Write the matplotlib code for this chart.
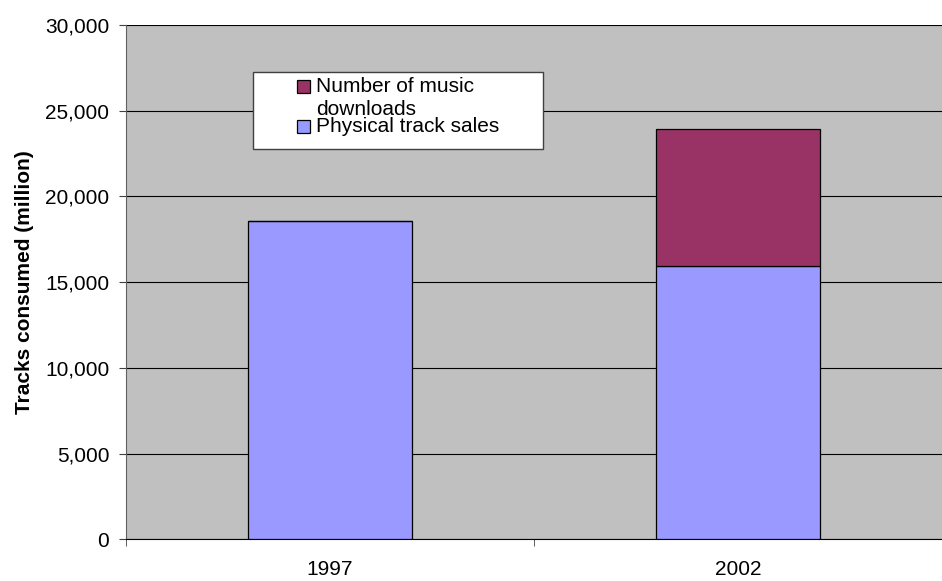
import matplotlib.pyplot as plt
from matplotlib.patches import Rectangle
import numpy as np

years = ['1997', '2002']
physical = [18580, 15960]
downloads = [0, 7960]
labels = ['Number of music\ndownloads', 'Physical track sales']

W, H = 942, 581
plt.rcParams['font.family'] = ['Liberation Sans', 'DejaVu Sans']

fig = plt.figure(figsize=(W / 100, H / 100), dpi=100)
# axes box in pixels: left 126, right past the edge, top 25, bottom 539
ax = fig.add_axes([126 / W, 1 - 539.3 / H, 1 - 126 / W, (539.3 - 25) / H])
ax.set_facecolor('#C0C0C0')

x = np.arange(len(years))
ax.bar(x, physical, 0.4, color='#9999FF', edgecolor='black', linewidth=0.9, zorder=3)
ax.bar(x, downloads, 0.4, bottom=physical, color='#993366', edgecolor='black',
       linewidth=0.9, zorder=3)

ax.set_xlim(-0.5, -0.5 + 816 / 415)
ax.set_ylim(0, 30000)
ax.set_yticks(np.arange(0, 30001, 5000))
ax.set_yticklabels(['{:,}'.format(v) for v in range(0, 30001, 5000)])
ax.yaxis.grid(True, color='black', linewidth=0.8, zorder=1)
ax.set_axisbelow(True)

ax.set_xticks(x)
ax.set_xticklabels(years)
ax.set_xticks([-0.5, 0.5, 1.5], minor=True)
ax.tick_params(axis='x', which='major', length=0, pad=15, labelsize=15)
ax.tick_params(axis='x', which='minor', length=5, color='#404040')
ax.tick_params(axis='y', length=5, pad=7, labelsize=15, color='#404040')

for s in ['top', 'right']:
    ax.spines[s].set_visible(False)
ax.spines['left'].set_color('#606060')
ax.spines['bottom'].set_color('black')

ax.set_ylabel('Tracks consumed (million)', fontsize=15, fontweight='bold', labelpad=8)

# legend drawn by hand (Excel style, wrapped text)
def fx(px):
    return px / W

def fy(py):
    return 1 - py / H

tf = fig.transFigure
fig.patches.append(Rectangle((fx(253), fy(149)), fx(543) - fx(253), fy(72) - fy(149),
                             transform=tf, facecolor='white', edgecolor='#404040',
                             linewidth=1, zorder=5))
colors = ['#993366', '#9999FF']
sq_top = [79.5, 119.5]
for c, t in zip(colors, sq_top):
    fig.patches.append(Rectangle((fx(297), fy(t + 13)), fx(13), 13 / H, transform=tf,
                                 facecolor=c, edgecolor='black', linewidth=0.9, zorder=6))
lines1 = labels[0].split('\n')
fig.text(fx(316), fy(92), lines1[0], fontsize=15, va='baseline', zorder=7)
fig.text(fx(316), fy(115), lines1[1], fontsize=15, va='baseline', zorder=7)
fig.text(fx(316), fy(132), labels[1], fontsize=15, va='baseline', zorder=7)

fig.savefig('out.png', dpi=100, facecolor='white')
